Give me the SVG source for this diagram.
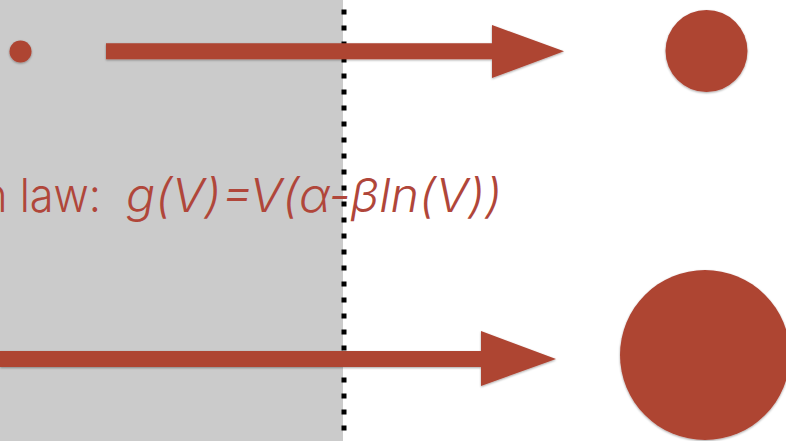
<svg xmlns="http://www.w3.org/2000/svg" width="786" height="441" viewBox="0 0 786 441">
  <defs>
    <filter id="sh" x="-10%" y="-10%" width="120%" height="130%">
      <feDropShadow dx="0" dy="1" stdDeviation="1.2" flood-color="#000" flood-opacity="0.35"/>
    </filter>
  </defs>
  <style>
    .red { fill: #AE4433; }
    .lbl { font-family: Inter, "Liberation Sans", sans-serif; font-weight: 300; font-size: 47px; fill: #B0463A; }
  </style>
  <rect x="0" y="0" width="786" height="441" fill="#FFFFFF"/>
  <rect x="0" y="0" width="343" height="441" fill="#CBCBCB"/>
  <line x1="344" y1="9.5" x2="344" y2="441" stroke="#000" stroke-width="5" stroke-dasharray="5 11"/>
  <g id="connectors">
    <path class="red" filter="url(#sh)" d="M106,43.3 H492 V25 L564,51.3 L492,78 V59.3 H106 Z"/>
    <path class="red" filter="url(#sh)" d="M0,351 H481 V331 L556,359 L481,386 V367 H0 Z"/>
  </g>
  <g id="node-small">
    <circle class="red" filter="url(#sh)" cx="20.5" cy="51.5" r="11"/>
  </g>
  <g id="node-medium">
    <circle class="red" filter="url(#sh)" cx="706.5" cy="51" r="41"/>
  </g>
  <g id="node-large">
    <circle class="red" filter="url(#sh)" cx="705" cy="355" r="85"/>
  </g>
  <g id="label">
    <text class="lbl" x="-18" y="212" textLength="119" lengthAdjust="spacingAndGlyphs">n law:</text>
    <text class="lbl" x="126" y="212" font-style="italic" textLength="376" lengthAdjust="spacingAndGlyphs">g(V)=V(α-βln(V))</text>
  </g>
</svg>
